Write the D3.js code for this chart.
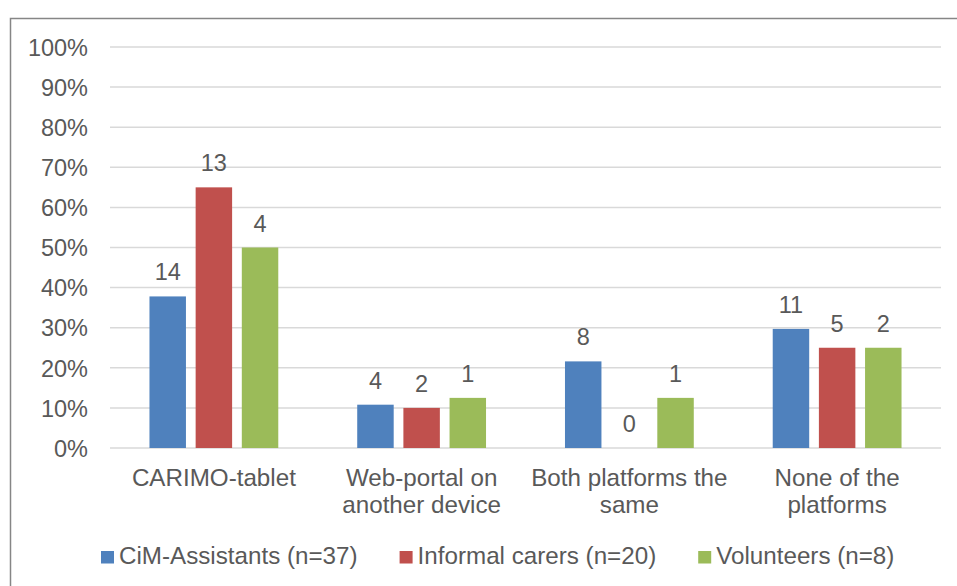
<!DOCTYPE html>
<html>
<head>
<meta charset="utf-8">
<script src="https://cdn.jsdelivr.net/npm/d3@7"></script>
<style>
  body { margin: 0; background: #fff; }
  text { font-family: "Liberation Sans", Arial, sans-serif; fill: #595959; }
</style>
</head>
<body>
<div id="chart"></div>
<script>
//DATA
var categories = ["CARIMO-tablet", "Web-portal on another device", "Both platforms the same", "None of the platforms"];
var seriesNames = ["CiM-Assistants (n=37)", "Informal carers (n=20)", "Volunteers (n=8)"];
var seriesColors = ["#4f81bd", "#c0504d", "#9bbb59"];
// share of respondents per group (bar height)
var cimPct = [0.378, 0.108, 0.216, 0.297];
var carersPct = [0.65, 0.10, 0, 0.25];
var volunteersPct = [0.50, 0.125, 0.125, 0.25];
// counts shown above the bars
var cimCount = [14, 4, 8, 11];
var carersCount = [13, 2, 0, 5];
var volunteersCount = [4, 1, 1, 2];
var yTicks = [0, 0.1, 0.2, 0.3, 0.4, 0.5, 0.6, 0.7, 0.8, 0.9, 1];

var pcts = [cimPct, carersPct, volunteersPct];
var counts = [cimCount, carersCount, volunteersCount];

var width = 957, height = 586;
var plot = {left: 110, right: 941, top: 47, bottom: 448};

var svg = d3.select("#chart").append("svg")
    .attr("width", width)
    .attr("height", height);

// chart border (only top and left visible in the frame)
svg.append("rect")
    .attr("x", 10.5)
    .attr("y", 18.5)
    .attr("width", 1000)
    .attr("height", 1000)
    .attr("fill", "none")
    .attr("stroke", "#868686")
    .attr("stroke-width", 1.5);

var y = d3.scaleLinear().domain([0, 1]).range([plot.bottom, plot.top]);
var x0 = d3.scaleBand().domain(categories).range([plot.left, plot.right]).padding(0);
var bw = x0.bandwidth();
var x1 = d3.scaleBand().domain(d3.range(seriesNames.length))
    .range([0.19 * bw, 0.81 * bw]).paddingInner(0.21);

// gridlines
svg.append("g").selectAll("line")
    .data(yTicks)
    .enter().append("line")
    .attr("x1", plot.left)
    .attr("x2", plot.right)
    .attr("y1", function(d) { return y(d); })
    .attr("y2", function(d) { return y(d); })
    .attr("stroke", "#d9d9d9")
    .attr("stroke-width", 1.5);

// y axis labels
var yAxis = d3.axisLeft(y).tickValues(yTicks).tickFormat(d3.format(".0%")).tickSize(0).tickPadding(22);
var yg = svg.append("g").attr("transform", "translate(" + plot.left + ",0)").call(yAxis);
yg.select(".domain").remove();
yg.selectAll("text")
    .attr("font-size", 23.5)
    .attr("font-family", "Liberation Sans, Arial, sans-serif")
    .attr("fill", "#595959")
    .attr("dy", "0.35em");

// bars
var groups = svg.append("g").selectAll("g")
    .data(categories)
    .enter().append("g")
    .attr("transform", function(d) { return "translate(" + x0(d) + ",0)"; });

groups.selectAll("rect")
    .data(function(d, ci) { return pcts.map(function(s, si) { return {si: si, v: s[ci], n: counts[si][ci]}; }); })
    .enter().append("rect")
    .attr("x", function(d) { return x1(d.si); })
    .attr("width", x1.bandwidth())
    .attr("y", function(d) { return y(d.v); })
    .attr("height", function(d) { return y(0) - y(d.v); })
    .attr("fill", function(d) { return seriesColors[d.si]; });

groups.selectAll("text.lbl")
    .data(function(d, ci) { return pcts.map(function(s, si) { return {si: si, v: s[ci], n: counts[si][ci]}; }); })
    .enter().append("text")
    .attr("class", "lbl")
    .attr("x", function(d) { return x1(d.si) + x1.bandwidth() / 2; })
    .attr("y", function(d) { return y(d.v) - 16; })
    .attr("text-anchor", "middle")
    .attr("font-size", 23.5)
    .text(function(d) { return d.n; });

// category labels, wrapped
var catLabels = svg.append("g").selectAll("text")
    .data(categories)
    .enter().append("text")
    .attr("x", function(d) { return x0(d) + bw / 2; })
    .attr("y", 486)
    .attr("text-anchor", "middle")
    .attr("font-size", 24.2);

catLabels.each(function(d) {
    var t = d3.select(this);
    var words = d.split(" ");
    var lines = [];
    var line = [];
    var tmp = t.append("tspan");
    words.forEach(function(w) {
        line.push(w);
        tmp.text(line.join(" "));
        if (tmp.node().getComputedTextLength() > 205 && line.length > 1) {
            line.pop();
            lines.push(line.join(" "));
            line = [w];
        }
    });
    lines.push(line.join(" "));
    tmp.remove();
    lines.forEach(function(l, i) {
        t.append("tspan")
            .attr("x", x0(d) + bw / 2)
            .attr("y", 486 + i * 27)
            .text(l);
    });
});

// legend
var legend = svg.append("g").attr("transform", "translate(101,0)");
var lx = 0;
seriesNames.forEach(function(name, i) {
    legend.append("rect")
        .attr("x", lx)
        .attr("y", 551)
        .attr("width", 13)
        .attr("height", 12.5)
        .attr("fill", seriesColors[i]);
    var txt = legend.append("text")
        .attr("x", lx + 18)
        .attr("y", 563.5)
        .attr("font-size", 24.2)
        .text(name);
    lx = lx + 18 + txt.node().getComputedTextLength() + 42;
});
</script>
</body>
</html>
